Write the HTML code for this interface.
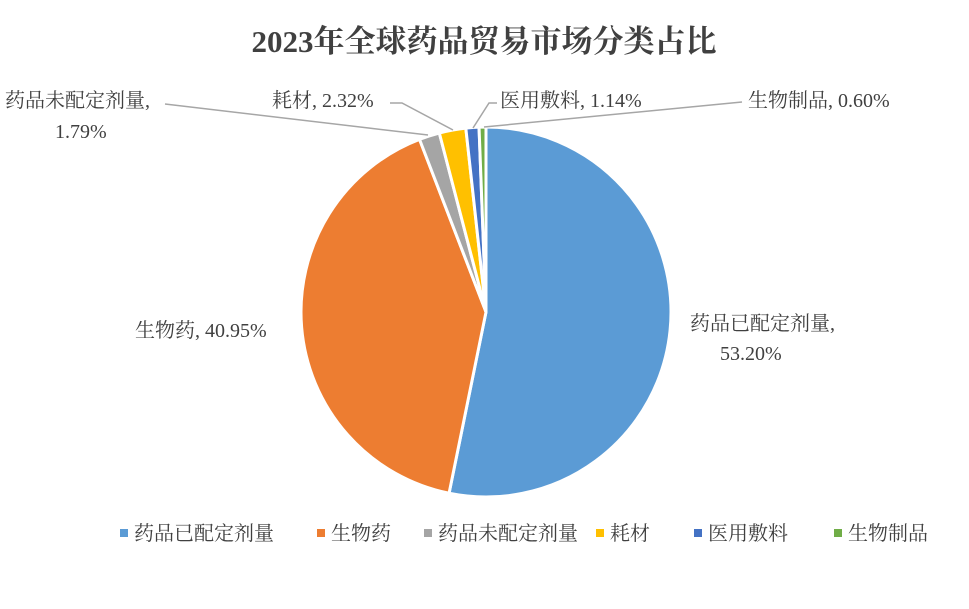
<!DOCTYPE html>
<html><head><meta charset="utf-8"><style>
body{margin:0;background:#fff;}
svg text{font-family:"Liberation Serif","Noto Serif CJK SC",serif;fill:#404040;}
</style></head><body>
<svg width="969" height="604" xmlns="http://www.w3.org/2000/svg">
<text x="484" y="52" text-anchor="middle" font-size="31" font-weight="bold">2023年全球药品贸易市场分类占比</text>
<g id="slices"></g>
<g id="leaders" stroke="#a6a6a6" stroke-width="1.5" fill="none">
<polyline points="165,104 428,135"/>
<polyline points="390,103 402,103 453,130"/>
<polyline points="497,103 489,103 473,128"/>
<polyline points="742,102 484,127"/>
</g>
<g font-size="20">
<text x="690" y="330">药品已配定剂量,</text>
<text x="720" y="360">53.20%</text>
<text x="135" y="337">生物药, 40.95%</text>
<text x="5" y="107">药品未配定剂量,</text>
<text x="55" y="138">1.79%</text>
<text x="272" y="107">耗材, 2.32%</text>
<text x="500" y="107">医用敷料, 1.14%</text>
<text x="748" y="107">生物制品, 0.60%</text>
</g>
<g id="legend" font-size="20"></g>
</svg>
<script>
const categories=["药品已配定剂量","生物药","药品未配定剂量","耗材","医用敷料","生物制品"];
const values=[53.20,40.95,1.79,2.32,1.14,0.60];
const colors=["#5b9bd5","#ed7d31","#a5a5a5","#ffc000","#4472c4","#70ad47"];
const legendX=[120,317,424,596,694,834];
const NS="http://www.w3.org/2000/svg";
const cx=486,cy=312,r=185;
const total=values.reduce((a,b)=>a+b,0);
let a0=0;
const g=document.getElementById('slices');
values.forEach((v,i)=>{
  const a1=a0+v/total*2*Math.PI;
  const x0=cx+r*Math.sin(a0),y0=cy-r*Math.cos(a0);
  const x1=cx+r*Math.sin(a1),y1=cy-r*Math.cos(a1);
  const p=document.createElementNS(NS,'path');
  p.setAttribute('d',`M${cx},${cy}L${x0},${y0}A${r},${r} 0 ${a1-a0>Math.PI?1:0} 1 ${x1},${y1}Z`);
  p.setAttribute('fill',colors[i]);p.setAttribute('stroke','#fff');p.setAttribute('stroke-width','3');
  
  
  g.appendChild(p);a0=a1;
});
const lg=document.getElementById('legend');
categories.forEach((c,i)=>{
  const rc=document.createElementNS(NS,'rect');
  rc.setAttribute('x',legendX[i]);rc.setAttribute('y',529);rc.setAttribute('width',8);rc.setAttribute('height',8);rc.setAttribute('fill',colors[i]);
  
  
  lg.appendChild(rc);
  const t=document.createElementNS(NS,'text');
  t.setAttribute('x',legendX[i]+14);t.setAttribute('y',540);t.textContent=c;
  
  
  lg.appendChild(t);
});
</script>
</body></html>
